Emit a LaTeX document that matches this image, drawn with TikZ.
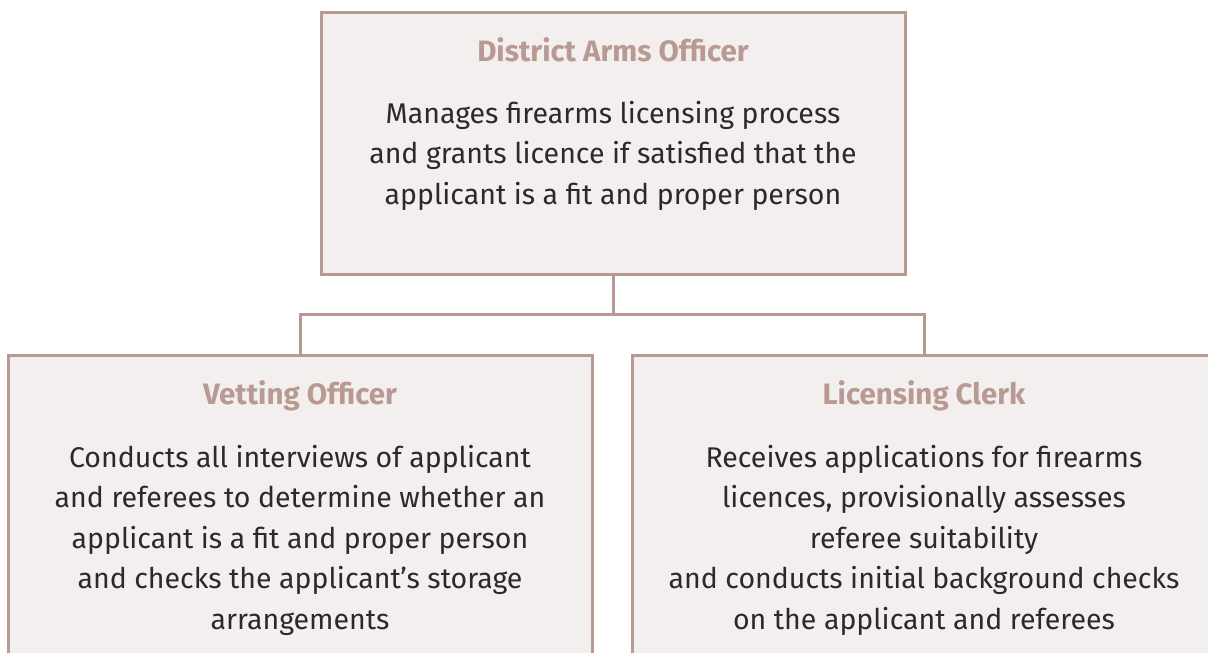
\documentclass[tikz,border=0pt]{standalone}
\usepackage{fontspec}
\setmainfont{Fira Sans}
\usetikzlibrary{positioning}

\definecolor{boxfill}{HTML}{F3EFEE}
\definecolor{boxline}{HTML}{B89A93}
\definecolor{bodytext}{HTML}{2A2A2A}

\tikzset{
  rolebox/.style={draw=boxline, fill=boxfill, line width=3pt, inner sep=0pt, outer sep=0pt},
  roletitle/.style={anchor=base, inner sep=0pt, text=boxline, font=\fontsize{29.5}{41}\selectfont\bfseries},
  roletext/.style={anchor=base, inner sep=0pt, align=center, text=bodytext, font=\fontsize{28.5}{40.5}\selectfont},
  link/.style={draw=boxline, line width=3pt}
}

\begin{document}
\begin{tikzpicture}[x=1pt,y=-1pt]
 \clip (0,0) rectangle (1208,653);
 \fill[white] (0,0) rectangle (1208,653);
 %
 \node[rolebox, minimum width=584pt, minimum height=262pt, anchor=north west] (dao) at (321,12) {};
 \node[rolebox, minimum width=584pt, minimum height=340pt, anchor=north west] (vo) at (8,355) {};
 \node[rolebox, minimum width=584pt, minimum height=340pt, anchor=north west] (lc) at (632,355) {};
 %
 \draw[link] (dao.south) -- ++(0,40) coordinate (split) -| (vo.north);
 \draw[link] (split) -| (lc.north);
 %
 \node[roletitle] (daotitle) at ([yshift=-49pt]dao.north) {District Arms Officer};
 \node[roletext] (daotext) at ([yshift=-192pt]dao.north) {Manages firearms licensing process\\ and grants licence if satisfied that the\\ applicant is a fit and proper person};
 %
 \node[roletitle] (votitle) at ([yshift=-49pt]vo.north) {Vetting Officer};
 \node[roletext] (votext) at ([yshift=-274pt]vo.north) {Conducts all interviews of applicant\\ and referees to determine whether an\\ applicant is a fit and proper person\\ and checks the applicant’s storage\\ arrangements};
 %
 \node[roletitle] (lctitle) at ([yshift=-49pt]lc.north) {Licensing Clerk};
 \node[roletext] (lctext) at ([yshift=-274pt]lc.north) {Receives applications for firearms\\ licences, provisionally assesses\\ referee suitability\\ and conducts initial background checks\\ on the applicant and referees};
\end{tikzpicture}
\end{document}
